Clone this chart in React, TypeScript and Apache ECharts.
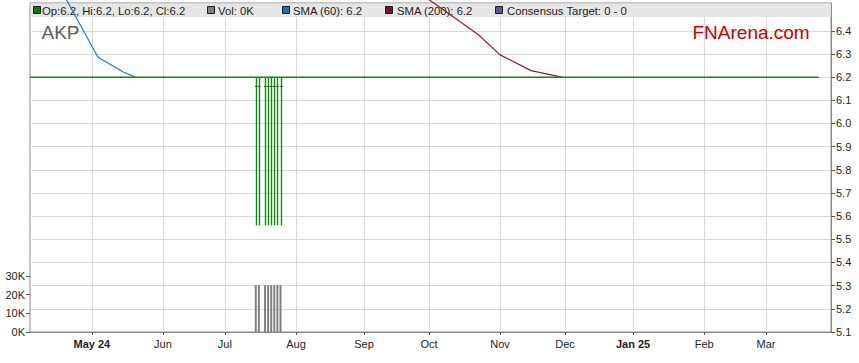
import React, { useEffect, useRef } from "react";
import * as echarts from "echarts";

const FONT = "'Liberation Sans', Arial, sans-serif";

// Trading-day axis domain
const firstDay = "2024-04-03";
const lastDay = "2025-04-01";

// Month tick labels
const monthKeys = ["2024-05", "2024-06", "2024-07", "2024-08", "2024-09", "2024-10", "2024-11", "2024-12", "2025-01", "2025-02", "2025-03"];
const monthNames = ["May 24", "Jun", "Jul", "Aug", "Sep", "Oct", "Nov", "Dec", "Jan 25", "Feb", "Mar"];
const boldMonths = ["May 24", "Jan 25"];

// Axis tick labels
const priceTicks = [5.1, 5.2, 5.3, 5.4, 5.5, 5.6, 5.7, 5.8, 5.9, 6.0, 6.1, 6.2, 6.3, 6.4];
const volumeTicks = [0, 10000, 20000, 30000];

// Close line (flat)
const closeDates = ["2024-04-03", "2025-03-26"];
const closeValues = [6.2, 6.2];

// OHLC bars on traded days
const barDates = ["2024-07-15", "2024-07-16", "2024-07-18", "2024-07-19", "2024-07-22", "2024-07-23", "2024-07-24", "2024-07-25"];
const barOpen = [6.16, 6.16, 6.16, 6.16, 6.16, 6.16, 6.16, 6.16];
const barHigh = [6.2, 6.2, 6.2, 6.2, 6.2, 6.2, 6.2, 6.2];
const barLow = [5.56, 5.56, 5.56, 5.56, 5.56, 5.56, 5.56, 5.56];
const barClose = [6.16, 6.16, 6.16, 6.16, 6.16, 6.16, 6.16, 6.16];
const volumeValues = [25000, 25000, 25000, 25000, 25000, 25000, 25000, 25000];

// Moving averages
const sma60Dates = ["2024-04-03", "2024-05-03", "2024-05-15", "2024-05-21"];
const sma60Values = [6.82, 6.286, 6.223, 6.2];
const sma200Dates = ["2024-09-18", "2024-10-23", "2024-11-01", "2024-11-15", "2024-11-29"];
const sma200Values = [6.62, 6.383, 6.296, 6.228, 6.2];

const legendItems = [
  { color: "#008000", text: "Op:6.2, Hi:6.2, Lo:6.2, Cl:6.2", x: 33.5, tx: 42 },
  { color: "#808080", text: "Vol: 0K", x: 207.5, tx: 218 },
  { color: "#1f6fae", text: "SMA (60): 6.2", x: 282.5, tx: 293 },
  { color: "#7d1030", text: "SMA (200): 6.2", x: 385.5, tx: 397 },
  { color: "#5a5a8e", text: "Consensus Target: 0 - 0", x: 495.5, tx: 507 },
];

function tradingDays(start: string, end: string): string[] {
  const out: string[] = [];
  const d = new Date(start + "T00:00:00Z");
  const e = new Date(end + "T00:00:00Z");
  while (d <= e) {
    const wd = d.getUTCDay();
    if (wd !== 0 && wd !== 6) out.push(d.toISOString().slice(0, 10));
    d.setUTCDate(d.getUTCDate() + 1);
  }
  return out;
}

export default function App() {
  const ref = useRef<HTMLDivElement>(null);

  useEffect(() => {
    if (!ref.current) return;
    const chart = echarts.init(ref.current, undefined, { renderer: "svg" });
    const cats = tradingDays(firstDay, lastDay);
    const idx = (d: string) => cats.indexOf(d);

    const isMonthStart = (i: number) => {
      if (i <= 0) return false;
      const m = cats[i].slice(0, 7);
      return m !== cats[i - 1].slice(0, 7) && monthKeys.indexOf(m) >= 0;
    };
    const labelFor = (v: string) => {
      const k = monthKeys.indexOf(String(v).slice(0, 7));
      if (k < 0) return "";
      const name = monthNames[k];
      return boldMonths.indexOf(name) >= 0 ? `{b|${name}}` : `{n|${name}}`;
    };

    const graphic: any[] = [
      {
        type: "rect",
        z: 1,
        shape: { x: 30.5, y: 3.5, width: 800.5, height: 13.5 },
        style: { fill: "#e6e6e6" },
        silent: true,
      },
    ];
    legendItems.forEach((it) => {
      graphic.push({
        type: "rect",
        z: 1,
        shape: { x: it.x, y: 6.5, width: 7, height: 7 },
        style: { fill: it.color, stroke: "#1a1a1a", lineWidth: 1 },
        silent: true,
      });
      graphic.push({
        type: "text",
        z: 1,
        x: it.tx,
        y: 10.5,
        style: { text: it.text, fontSize: 11.3, fontFamily: FONT, fill: "#1e1e1e", align: "left", verticalAlign: "middle" },
        silent: true,
      });
    });
    graphic.push({
      type: "text",
      z: 1,
      x: 41.5,
      y: 32,
      style: { text: "AKP", fontSize: 19, fontFamily: FONT, fill: "#5e5e5e", align: "left", verticalAlign: "middle" },
      silent: true,
    });
    graphic.push({
      type: "text",
      z: 1,
      x: 692.5,
      y: 32.5,
      style: { text: "FNArena.com", fontSize: 19, fontFamily: FONT, fill: "#cc0000", align: "left", verticalAlign: "middle" },
      silent: true,
    });

    const option: any = {
      animation: false,
      backgroundColor: "#ffffff",
      textStyle: { fontFamily: FONT },
      graphic,
      grid: [
        {
          left: 30,
          right: 28,
          top: 3,
          bottom: 31,
          show: true,
          borderColor: "#8a8a8a",
          borderWidth: 1,
          backgroundColor: "transparent",
          outerBoundsMode: "none",
        },
        {
          left: 30,
          right: 28,
          top: 257,
          bottom: 31,
          show: false,
          outerBoundsMode: "none",
        },
      ],
      xAxis: [
        {
          type: "category",
          gridIndex: 0,
          data: cats,
          boundaryGap: false,
          axisLine: { show: true, lineStyle: { color: "#8a8a8a" } },
          axisTick: { show: true, interval: (i: number) => isMonthStart(i), length: 3, lineStyle: { color: "#555" } },
          axisLabel: {
            interval: (i: number) => isMonthStart(i),
            formatter: (v: string) => labelFor(v),
            margin: 6,
            rich: {
              b: { fontSize: 11, fontWeight: "bold", color: "#1e1e1e", fontFamily: FONT },
              n: { fontSize: 11, color: "#1e1e1e", fontFamily: FONT },
            },
          },
          splitLine: { show: true, interval: (i: number) => isMonthStart(i), lineStyle: { color: "#d9d9d9", width: 1 } },
        },
        {
          type: "category",
          gridIndex: 1,
          data: cats,
          boundaryGap: false,
          show: false,
        },
      ],
      yAxis: [
        {
          type: "value",
          gridIndex: 0,
          position: "right",
          min: 5.1,
          max: 6.52,
          interval: 0.1,
          axisLine: { show: true, lineStyle: { color: "#8a8a8a" } },
          axisTick: { show: true, customValues: priceTicks, length: 4, lineStyle: { color: "#555" } },
          axisLabel: {
            customValues: priceTicks,
            formatter: (v: number) => Number(v).toFixed(1),
            margin: 5,
            fontSize: 11,
            color: "#1e1e1e",
            fontFamily: FONT,
          },
          splitLine: { show: true, lineStyle: { color: "#d9d9d9", width: 1 } },
        },
        {
          type: "value",
          gridIndex: 1,
          position: "left",
          min: 0,
          max: 40000,
          interval: 10000,
          axisLine: { show: false },
          axisTick: { show: true, customValues: volumeTicks, length: 4, lineStyle: { color: "#555" } },
          axisLabel: {
            customValues: volumeTicks,
            formatter: (v: number) => `${Math.round(v / 1000)}K`,
            margin: 5,
            fontSize: 11,
            color: "#1e1e1e",
            fontFamily: FONT,
          },
          splitLine: { show: false },
        },
      ],
      series: [
        {
          name: "SMA (60)",
          type: "line",
          xAxisIndex: 0,
          yAxisIndex: 0,
          data: sma60Dates.map((d, i) => [idx(d), sma60Values[i]]),
          showSymbol: false,
          clip: false,
          z: 2,
          lineStyle: { color: "#2a7ab8", width: 1.2 },
        },
        {
          name: "SMA (200)",
          type: "line",
          xAxisIndex: 0,
          yAxisIndex: 0,
          data: sma200Dates.map((d, i) => [idx(d), sma200Values[i]]),
          showSymbol: false,
          clip: false,
          z: 2,
          lineStyle: { color: "#8a1c3c", width: 1.2 },
        },
        {
          name: "Close",
          type: "line",
          xAxisIndex: 0,
          yAxisIndex: 0,
          data: closeDates.map((d, i) => [idx(d), closeValues[i]]),
          showSymbol: false,
          z: 4,
          lineStyle: { color: "#0b8f0b", width: 1.5 },
        },
        {
          name: "OHLC",
          type: "custom",
          xAxisIndex: 0,
          yAxisIndex: 0,
          z: 5,
          encode: { x: 0, y: [1, 2, 3, 4] },
          data: barDates.map((d, i) => [idx(d), barOpen[i], barClose[i], barLow[i], barHigh[i]]),
          renderItem: (params: any, api: any) => {
            const x = api.value(0);
            const o = api.coord([x, api.value(1)]);
            const c = api.coord([x, api.value(2)]);
            const l = api.coord([x, api.value(3)]);
            const h = api.coord([x, api.value(4)]);
            const px = Math.round(h[0]) + 0.5;
            return {
              type: "group",
              children: [
                { type: "line", shape: { x1: px, y1: h[1], x2: px, y2: l[1] }, style: { stroke: "#0b8f0b", lineWidth: 1.4 } },
                { type: "line", shape: { x1: px - 1.5, y1: o[1], x2: px, y2: o[1] }, style: { stroke: "#1d4f1d", lineWidth: 1 } },
                { type: "line", shape: { x1: px, y1: c[1], x2: px + 1, y2: c[1] }, style: { stroke: "#1d4f1d", lineWidth: 1 } },
              ],
            };
          },
        },
        {
          name: "Vol",
          type: "bar",
          xAxisIndex: 1,
          yAxisIndex: 1,
          barWidth: 2,
          data: barDates.map((d, i) => [idx(d), volumeValues[i]]),
          itemStyle: { color: "#808080" },
        },
      ],
    };
    chart.setOption(option);
    return () => {
      chart.dispose();
    };
  }, []);

  return (
    <div
      ref={ref}
      style={{ position: "absolute", left: 0, top: 0, width: 859, height: 363, background: "#fff" }}
    />
  );
}
